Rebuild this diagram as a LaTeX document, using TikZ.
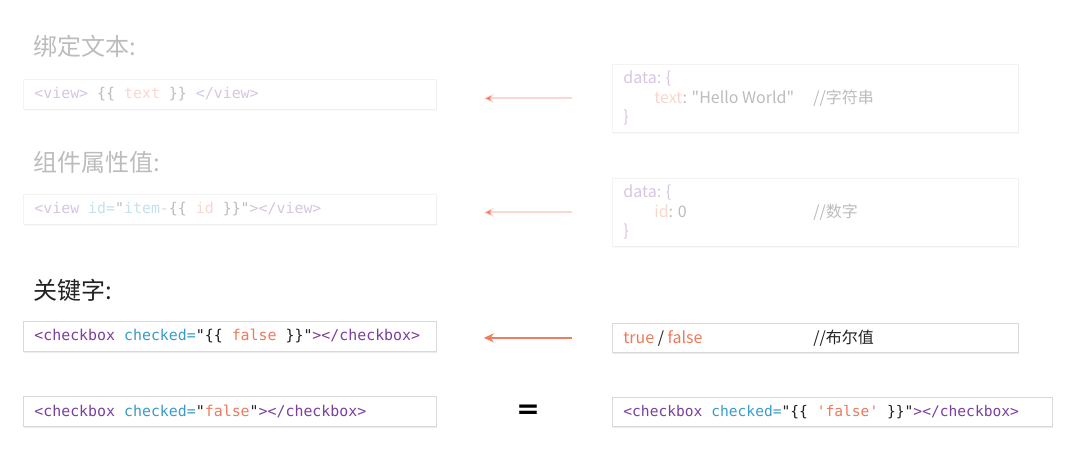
\documentclass[tikz,border=0pt]{standalone}
\usepackage{fontspec}
\usepackage{xcolor}
\usepackage{tikz}
\usetikzlibrary{arrows.meta}
\usetikzlibrary{shadows}
\setmainfont{Noto Sans CJK SC}[Ligatures=TeXOff]
\setmonofont{DejaVu Sans Mono}
\newfontfamily\eqfont{DejaVu Sans}
\definecolor{tagpurple}{HTML}{7B3F9E}
\definecolor{attrblue}{HTML}{3A9CC8}
\definecolor{valorange}{HTML}{EE7A5C}
\definecolor{inkgray}{HTML}{222222}
\definecolor{arrowred}{HTML}{F07C60}
\newcommand{\tagtxt}[1]{\textcolor{tagpurple}{#1}}
\newcommand{\attrtxt}[1]{\textcolor{attrblue}{#1}}
\newcommand{\valtxt}[1]{\textcolor{valorange}{#1}}

\begin{document}
\begin{tikzpicture}[x=1pt,y=-1pt,
  codebox/.style={draw=black!15, fill=white, line width=0.8pt, anchor=north west, inner xsep=11pt, inner ysep=0pt, align=left, minimum height=30pt, text width=391pt, text=inkgray, font=\fontsize{14.9}{18}\ttfamily, execute at begin node={\spaceskip=0pt\xspaceskip=0pt}, drop shadow={shadow xshift=0.8pt, shadow yshift=-1.2pt, opacity=#1}},
  codebox/.default=0.15,
  databox/.style={codebox=#1, text width=384pt, font=\fontsize{16}{19.5}\selectfont},
  databox/.default=0.15,
  heading/.style={anchor=west, inner sep=0pt, text=inkgray, font=\fontsize{24}{24}\selectfont},
  fade/.style={text opacity=0.3, draw opacity=0.3},
  arr/.style={-{Stealth[length=10pt,width=9pt]}, line width=2pt, draw=arrowred, shorten <=40pt, shorten >=47pt}]
  \useasboundingbox (0,0) rectangle (1086,460);
  % 绑定文本
  \node[heading, fade] (bindhead) at (33,46) {绑定文本:};
  \node[codebox=0.05, fade] (bindview) at (23,79) {\tagtxt{<view>} \{\{ \valtxt{text} \}\} \tagtxt{</view>}};
  \node[databox=0.05, fade, minimum height=68pt] (binddata) at (612,64) {\tagtxt{data: \{}\\ \makebox[190pt][l]{\hspace*{31pt}\valtxt{text}: "Hello World"}//字符串\\ \tagtxt{\}}};
  \draw[arr, draw opacity=0.3] (binddata.west) -- (binddata.west -| bindview.east);
  % 组件属性值
  \node[heading, fade] (prophead) at (33,162) {组件属性值:};
  \node[codebox=0.05, fade] (propview) at (23,194) {\tagtxt{<view} \attrtxt{id=}"\attrtxt{item-}\{\{ \valtxt{id} \}\}"\tagtxt{></view>}};
  \node[databox=0.05, fade, minimum height=68pt] (propdata) at (612,178) {\tagtxt{data: \{}\\ \makebox[190pt][l]{\hspace*{31pt}\valtxt{id}: 0}//数字\\ \tagtxt{\}}};
  \draw[arr, draw opacity=0.3] (propdata.west) -- (propdata.west -| propview.east);
  % 关键字
  \node[heading] (keyhead) at (33,290) {关键字:};
  \node[codebox] (keyview) at (23,321) {\tagtxt{<checkbox} \attrtxt{checked=}"\{\{ \valtxt{false} \}\}"\tagtxt{></checkbox>}};
  \node[databox, minimum height=29pt] (keydata) at (612,323) {\makebox[190pt][l]{\valtxt{true} / \valtxt{false}}//布尔值};
  \draw[arr] (keydata.west) -- (keydata.west -| keyview.east);
  \node[codebox] (keyplain) at (23,396) {\tagtxt{<checkbox} \attrtxt{checked=}"\valtxt{false}"\tagtxt{></checkbox>}};
  \node[codebox, text width=418pt, minimum height=29pt, font=\fontsize{14.6}{18}\ttfamily] (keyquoted) at (612,397) {\tagtxt{<checkbox} \attrtxt{checked=}"\{\{ \valtxt{'false'} \}\}"\tagtxt{></checkbox>}};
  \node[inner sep=0pt, font=\fontsize{28}{28}\eqfont\bfseries] (eqsign) at (528,412) {=};
\end{tikzpicture}
\end{document}
